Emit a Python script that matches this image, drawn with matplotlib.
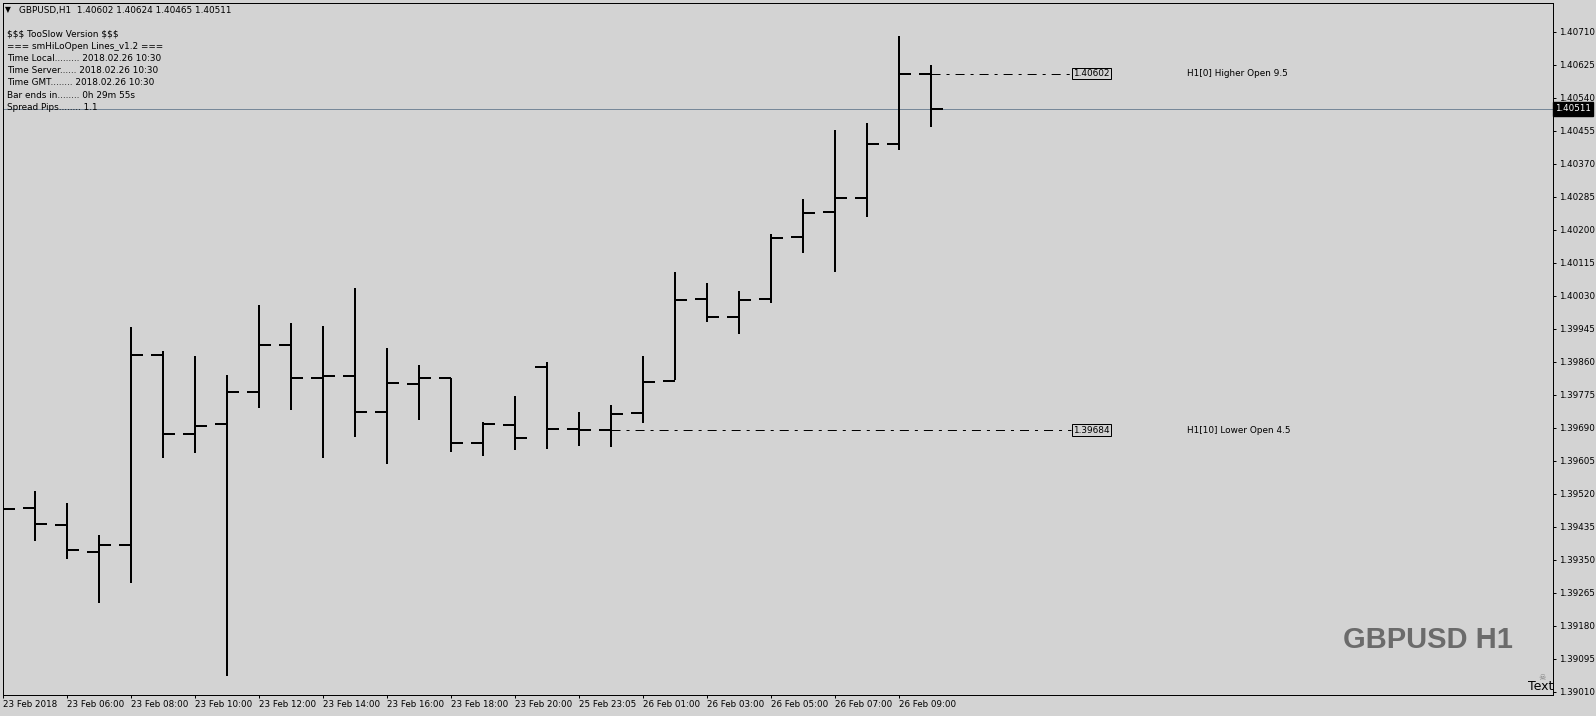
# GBPUSD H1 bar chart, MT4 style
import numpy as np
import matplotlib
matplotlib.use("Agg")
import matplotlib.pyplot as plt

plt.rcParams["font.family"] = ["DejaVu Sans"]
plt.rcParams["lines.scale_dashes"] = False

W, H = 1596, 716
BG = "#d3d3d3"

# OHLC per hourly bar (23 Feb 04:00 .. 26 Feb 10:00)
opens = [1.39500, 1.39484, 1.39439, 1.39371, 1.39388, 1.39877, 1.39674, 1.39700, 1.39782, 1.39904,
         1.39819, 1.39823, 1.39730, 1.39803, 1.39819, 1.39651, 1.39698, 1.39846, 1.39686, 1.39684,
         1.39727, 1.39811, 1.40022, 1.39976, 1.40021, 1.40181, 1.40246, 1.40282, 1.40421, 1.40602]
highs = [1.39553, 1.39527, 1.39496, 1.39414, 1.39949, 1.39888, 1.39875, 1.39826, 1.40006, 1.39960,
         1.39952, 1.40049, 1.39895, 1.39851, 1.39819, 1.39704, 1.39772, 1.39858, 1.39730, 1.39748,
         1.39875, 1.40090, 1.40063, 1.40042, 1.40188, 1.40279, 1.40457, 1.40474, 1.40700, 1.40624]
lows = [1.39445, 1.39399, 1.39351, 1.39239, 1.39291, 1.39613, 1.39626, 1.39051, 1.39740, 1.39736,
        1.39613, 1.39667, 1.39597, 1.39711, 1.39628, 1.39618, 1.39633, 1.39635, 1.39644, 1.39641,
        1.39703, 1.39813, 1.39963, 1.39932, 1.40010, 1.40141, 1.40092, 1.40234, 1.40406, 1.40465]
closes = [1.39481, 1.39442, 1.39376, 1.39388, 1.39877, 1.39674, 1.39694, 1.39782, 1.39904, 1.39819,
          1.39823, 1.39730, 1.39805, 1.39818, 1.39651, 1.39700, 1.39664, 1.39687, 1.39685, 1.39725,
          1.39809, 1.40020, 1.39976, 1.40020, 1.40179, 1.40244, 1.40282, 1.40421, 1.40602, 1.40511]

time_ticks = [0, 2, 4, 6, 8, 10, 12, 14, 16, 18, 20, 22, 24, 26, 28]
time_labels = ["23 Feb 2018", "23 Feb 06:00", "23 Feb 08:00", "23 Feb 10:00", "23 Feb 12:00",
               "23 Feb 14:00", "23 Feb 16:00", "23 Feb 18:00", "23 Feb 20:00", "25 Feb 23:05",
               "26 Feb 01:00", "26 Feb 03:00", "26 Feb 05:00", "26 Feb 07:00", "26 Feb 09:00"]

price_ticks = [1.40710, 1.40625, 1.40540, 1.40455, 1.40370, 1.40285, 1.40200, 1.40115, 1.40030,
               1.39945, 1.39860, 1.39775, 1.39690, 1.39605, 1.39520, 1.39435, 1.39350, 1.39265,
               1.39180, 1.39095, 1.39010]

bid = 1.40511
higher_open = 1.40602   # H1[0]
lower_open = 1.39684    # H1[10]

info_lines = ["$$$ TooSlow Version $$$",
              "=== smHiLoOpen Lines_v1.2 ===",
              "Time Local......... 2018.02.26 10:30",
              "Time Server...... 2018.02.26 10:30",
              "Time GMT........ 2018.02.26 10:30",
              "Bar ends in........ 0h 29m 55s",
              "Spread Pips........ 1.1"]

fig = plt.figure(figsize=(W / 100, H / 100), dpi=100, facecolor=BG)
ax = fig.add_axes([2.5 / W, 1 - 695 / H, (1553.3 - 2.5) / W, (695 - 2.7) / H], facecolor=BG)


def px(x, y):
    return x / W, 1 - y / H


x = np.arange(len(opens))
lw_px = 0.72
ax.vlines(x, lows, highs, color="black", lw=2 * lw_px, zorder=3)
ax.hlines(opens, x - 0.375, x, color="black", lw=2 * lw_px, zorder=3)
ax.hlines(closes, x, x + 0.375, color="black", lw=2 * lw_px, zorder=3)

# bid line
ax.axhline(bid, color="#778899", lw=lw_px, zorder=2)

# open level lines
box_x = 33.37
label_x = 37.0
for start, level, text in [(29, higher_open, "H1[0] Higher Open 9.5"),
                           (19, lower_open, "H1[10] Lower Open 4.5")]:
    ax.plot([start, box_x], [level, level], color="black", lw=lw_px,
            dashes=(6.5, 4.3, 2.2, 4.3), zorder=2)
    ax.text(box_x + 0.07, level, f"{level:.5f}", fontsize=6.4, va="center", ha="left",
            bbox=dict(boxstyle="square,pad=0.15", fc=BG, ec="black", lw=lw_px), zorder=4)
    ax.text(label_x, level, text, fontsize=6.4, va="center", ha="left")

ax.set_xlim(-0.0156, 48.45)
ax.set_ylim(1.390015, 1.407847)

ax.yaxis.tick_right()
ax.set_yticks(price_ticks)
ax.set_yticklabels([f"{p:.5f}" for p in price_ticks])
ax.tick_params(axis="y", length=2.2, width=lw_px, pad=2.2, labelsize=6.3, direction="out")
ax.set_xticks(time_ticks)
ax.set_xticklabels(time_labels, ha="left")
ax.tick_params(axis="x", length=2.2, width=lw_px, pad=1.5, labelsize=6.3, direction="out")
for s in ax.spines.values():
    s.set_linewidth(lw_px)
    s.set_color("black")

# bid price tag on the axis
ax.text(1 + 2 / 1550.8, bid, f"{bid:.5f}", transform=ax.get_yaxis_transform(),
        fontsize=6.3, color="white", va="center", ha="left",
        bbox=dict(boxstyle="square,pad=0.25", fc="black", ec="black"), clip_on=False)

# header and info block
fig.text(*px(5, 10), "\u25bc", fontsize=5.5, va="center", ha="left")
fig.text(*px(19, 10), "GBPUSD,H1  1.40602 1.40624 1.40465 1.40511", fontsize=6.4,
         va="center", ha="left")
for i, line in enumerate(info_lines):
    fig.text(*px(7, 34.5 + 12.1 * i), line, fontsize=6.4, va="center", ha="left",
             parse_math=False)

# watermark and corner label
fig.text(*px(1343, 640), "GBPUSD H1", fontsize=21, fontweight="bold", color="#6b6b6b",
         va="center", ha="left", family=["Liberation Sans", "DejaVu Sans"])
fig.text(*px(1542, 677), "\u2620", fontsize=6, color="#808080", va="center", ha="center")
fig.text(*px(1553, 686), "Text", fontsize=9, va="center", ha="right")

fig.savefig("out.png", dpi=100, facecolor=BG)
